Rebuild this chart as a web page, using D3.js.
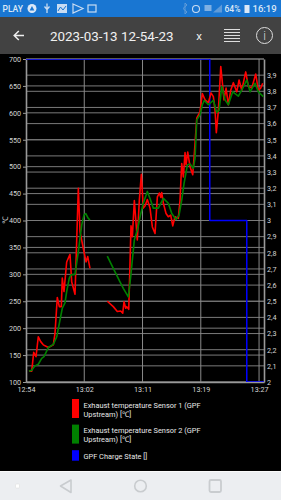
<!DOCTYPE html>
<html>
<head>
<meta charset="utf-8">
<style>
html,body{margin:0;padding:0;background:#000;width:281px;height:500px;overflow:hidden}
svg{display:block}
text{font-family:Roboto,"Noto Sans",sans-serif}
</style>
<script src="https://cdn.jsdelivr.net/npm/d3@7/dist/d3.min.js"></script>
</head>
<body>
<svg id="app" width="281" height="500"></svg>
<script>
// Recording title and time axis (minutes after 12:54)
const title = "2023-03-13 12-54-23";
const timeTicks = [0, 8.25, 16.5, 24.75, 33];
const timeLabels = ["12:54", "13:02", "13:11", "13:19", "13:27"];
const timeDomain = [0, 33.7];

const tempTicks = d3.range(100, 701, 50);
const stateTicks = d3.range(20, 41).map(d => d / 10);

// Sensor 1, two stretches with a dropout between them
const sensor1TimesA = [.42,.81,1.09,1.42,1.74,2.08,2.45,3.16,3.87,4.11,4.43,4.72,5,5.14,5.38,5.76,6.09,6.23,6.47,6.94,7.41,7.65,8.12,8.5,8.74,9.06];
const sensor1ValuesA = [120,120,155,147,184,175,169,164,169,191,257,240,240,293,268,323,333,337,286,263,460,379,348,323,333,311];
const sensor1TimesB = [11.51,12.36,12.93,13.41,13.7,13.88,14.12,14.26,14.55,14.87,15.06,15.34,15.76,16.05,16.33,16.61,16.85,17.18,17.56,17.89,18.27,18.6,18.88,19.08,19.22,19.45,19.83,20.15,20.49,20.78,21.1,21.57,21.81,22.05,22.28,22.52,22.66,22.9,23.23,23.61,23.84,24.18,24.64,24.97,25.35,25.82,26.2,26.53,26.77,26.95,27.24,27.58,27.86,28.04,28.33,28.65,28.99,29.36,29.84,30.17,30.55,31.11,31.48,31.97,32.53,32.9,33.24,33.52];
const sensor1ValuesB = [250,240,231,232,228,249,237,240,235,390,370,437,364,438,486,423,427,439,423,388,376,444,451,443,452,432,413,407,410,390,407,404,438,506,481,526,503,527,500,485,525,590,602,636,624,619,637,630,605,563,605,686,649,624,646,615,642,656,639,661,642,676,649,646,672,642,646,655];

// Sensor 2, same dropout
const sensor2TimesA = [.42,.81,1.27,1.74,2.22,2.55,3.16,3.87,4.35,4.72,5.14,5.52,5.76,6.13,6.37,6.94,7.41,7.89,8.21,8.45,8.82,9.06];
const sensor2ValuesA = [120,122,130,133,144,147,164,170,184,209,237,247,268,293,299,300,342,392,410,413,404,401];
const sensor2TimesB = [11.51,12.36,13.31,13.78,14.49,14.83,15.06,15.34,15.82,16.15,16.61,17.18,17.56,18.03,18.74,19.45,20.15,20.64,21.24,21.67,22.05,22.38,22.85,23.23,23.69,23.94,24.18,24.64,24.97,25.25,25.82,26.53,27.01,27.34,27.72,28.18,28.65,29.27,30.07,30.55,31.26,31.73,32.43,32.9,33.61];
const sensor2ValuesB = [334,311,286,274,258,296,327,364,385,407,432,454,441,423,423,441,432,413,402,410,438,469,503,505,497,516,587,596,615,623,615,623,601,605,649,624,615,639,631,642,661,639,655,639,630];

// GPF charge state steps, read on the right axis
const chargeTimes = [0, 26.02, 31.26, 33.7];
const chargeValues = [4, 3, 2, 2];

const legendLabels = [
  ["Exhaust temperature Sensor 1 (GPF", "Upstream) [℃]"],
  ["Exhaust temperature Sensor 2 (GPF", "Upstream) [℃]"],
  ["GPF Charge State []"]
];
const seriesColors = ["#ff0000", "#008000", "#0000ff"];

const svg = d3.select("#app");
const plot = {left: 26, right: 264, top: 59, bottom: 382};
const axisColor = "#999999", labelColor = "#d4d4d4";

const x = d3.scaleLinear().domain(timeDomain).range([plot.left, plot.right]);
const yTemp = d3.scaleLinear().domain([100, 700]).range([plot.bottom, plot.top]);
const yState = d3.scaleLinear().domain([2, 4]).range([plot.bottom, plot.top]);

svg.append("rect").attr("width", 281).attr("height", 500).attr("fill", "#000");

// Grid: both value axes contribute horizontal lines
const grid = svg.append("g").attr("stroke", "#7a7a7a").attr("stroke-width", 1);
tempTicks.forEach(t => grid.append("line").attr("x1", plot.left).attr("x2", plot.right)
  .attr("y1", yTemp(t)).attr("y2", yTemp(t)));
stateTicks.forEach(t => grid.append("line").attr("x1", plot.left).attr("x2", plot.right)
  .attr("y1", yState(t)).attr("y2", yState(t)));
timeTicks.slice(1).forEach(t => grid.append("line").attr("x1", x(t)).attr("x2", x(t))
  .attr("y1", plot.top).attr("y2", plot.bottom).attr("stroke", "#8a8a8a"));

function styleAxis(g) {
  g.selectAll(".domain").attr("stroke", axisColor).attr("stroke-width", 1.6);
  g.selectAll(".tick line").attr("stroke", axisColor);
  g.selectAll("text").attr("fill", labelColor).attr("font-size", 7.2)
    .style("font-family", "Roboto,sans-serif");
}

svg.append("g").attr("transform", `translate(${plot.left},0)`)
  .call(d3.axisLeft(yTemp).tickValues(tempTicks).tickSize(3).tickPadding(2).tickSizeOuter(0))
  .call(styleAxis);
svg.append("g").attr("transform", `translate(${plot.right},0)`)
  .call(d3.axisRight(yState).tickValues(stateTicks.slice(0, -1)).tickSize(0).tickPadding(3).tickSizeOuter(0)
    .tickFormat(d => String(+d.toFixed(1)).replace(".", ",")))
  .call(styleAxis);
svg.append("g").attr("transform", `translate(0,${plot.bottom})`)
  .call(d3.axisBottom(x).tickValues(timeTicks).tickSize(0).tickPadding(5).tickSizeOuter(0)
    .tickFormat((d, i) => timeLabels[i]))
  .call(styleAxis);

svg.append("text").attr("transform", `translate(8,220) rotate(-90)`)
  .attr("text-anchor", "middle").attr("fill", labelColor).attr("font-size", 7.5).text("℃");

// Series
svg.append("clipPath").attr("id", "plot-clip").append("rect")
  .attr("x", plot.left).attr("y", plot.top).attr("width", plot.right - plot.left).attr("height", plot.bottom - plot.top);
const marks = svg.append("g").attr("clip-path", "url(#plot-clip)").attr("fill", "none").attr("stroke-linejoin", "round");

const zip = (ts, vs) => ts.map((t, i) => [t, vs[i]]);
const tempLine = d3.line().x(d => x(d[0])).y(d => yTemp(d[1]));
const stateLine = d3.line().curve(d3.curveStepAfter).x(d => x(d[0])).y(d => yState(d[1]));

marks.append("path").attr("d", stateLine(zip(chargeTimes, chargeValues)))
  .attr("stroke", seriesColors[2]).attr("stroke-width", 1.5);
[[sensor1TimesA, sensor1ValuesA], [sensor1TimesB, sensor1ValuesB]].forEach(([t, v]) =>
  marks.append("path").attr("d", tempLine(zip(t, v))).attr("stroke", seriesColors[0]).attr("stroke-width", 1.6));
[[sensor2TimesA, sensor2ValuesA], [sensor2TimesB, sensor2ValuesB]].forEach(([t, v]) =>
  marks.append("path").attr("d", tempLine(zip(t, v))).attr("stroke", seriesColors[1]).attr("stroke-width", 1.6));

// Legend
let ly = 399;
legendLabels.forEach((lines, i) => {
  const h = lines.length === 2 ? 19 : 10.5;
  svg.append("rect").attr("x", 72).attr("y", ly).attr("width", 7).attr("height", h).attr("fill", seriesColors[i]);
  lines.forEach((s, j) => svg.append("text").attr("x", 83.5).attr("y", ly + 8.8 + j * 9)
    .attr("fill", "#e8e8e8").attr("font-size", 7.4).text(s));
  ly += h + 6.6;
});

// Header bar (its black margin covers the top of the first axis label)
svg.append("rect").attr("y", 17).attr("width", 281).attr("height", 40).attr("fill", "#000");
svg.append("rect").attr("y", 17).attr("width", 281).attr("height", 37).attr("fill", "#424242");
svg.append("path").attr("d", "M24 35.5H14.5M18.8 31L14.2 35.5L18.8 40").attr("fill", "none").attr("stroke", "#eee").attr("stroke-width", 1.5);
svg.append("text").attr("x", 111.7).attr("y", 40.5).attr("text-anchor", "middle").attr("fill", "#f0f0f0")
  .attr("font-size", 13.4).text(title);
svg.append("text").attr("x", 199).attr("y", 39.5).attr("text-anchor", "middle").attr("fill", "#eee")
  .attr("font-size", 11.5).text("x");
d3.range(5).forEach(i => svg.append("line").attr("x1", 224).attr("x2", 240).attr("y1", 29.5 + i * 3).attr("y2", 29.5 + i * 3)
  .attr("stroke", "#ddd").attr("stroke-width", 1));
svg.append("circle").attr("cx", 264.5).attr("cy", 35.5).attr("r", 8).attr("fill", "none").attr("stroke", "#ddd").attr("stroke-width", 1);
svg.append("text").attr("x", 264.5).attr("y", 40).attr("text-anchor", "middle").attr("fill", "#ddd")
  .attr("font-size", 12).attr("font-weight", 300).text("i");

// Status bar
const bar = "#1976d2", glyph = "#dbe8f7";
svg.append("rect").attr("width", 281).attr("height", 17).attr("fill", bar);
const sb = (x0, s, size, anchor) => svg.append("text").attr("x", x0).attr("y", 12).attr("fill", glyph)
  .attr("font-size", size).attr("font-weight", 500).attr("text-anchor", anchor || "start").text(s);
sb(2.5, "PLAY", 8.5);
svg.append("circle").attr("cx", 32).attr("cy", 8.5).attr("r", 4.5).attr("fill", glyph);
svg.append("path").attr("d", "M32 6L34.4 10.5H29.6Z").attr("fill", bar);
svg.append("path").attr("d", "M47 3.5V13M44.5 6.5L47 9.5L49.5 6.5").attr("fill", "none").attr("stroke", "#c9dcf2").attr("stroke-width", 1.3);
svg.append("rect").attr("x", 57).attr("y", 4).attr("width", 10).attr("height", 9).attr("fill", "#c9dcf2");
svg.append("path").attr("d", "M58 11L60.5 7L63 10L66 6").attr("fill", "none").attr("stroke", bar);
svg.append("path").attr("d", "M73 4L83 8.5L73 13Z").attr("fill", "none").attr("stroke", "#c9dcf2").attr("stroke-width", 1.2);
svg.append("rect").attr("x", 88).attr("y", 5).attr("width", 8).attr("height", 7).attr("fill", "none").attr("stroke", "#c9dcf2").attr("stroke-width", 1.2);
svg.append("path").attr("d", "M183 8.5L187 12L185 14V3L187 5L183 8.5").attr("fill", "none").attr("stroke", "#5f9bd9").attr("stroke-width", 1);
svg.append("circle").attr("cx", 196).attr("cy", 9).attr("r", 3.5).attr("fill", "none").attr("stroke", "#c9dcf2").attr("stroke-width", 1.1);
svg.append("rect").attr("x", 204.5).attr("y", 5).attr("width", 7).attr("height", 6).attr("fill", "#7fb0e3");
svg.append("path").attr("d", "M213 12.5L222 4.5V12.5Z").attr("fill", "#5f9bd9");
sb(224.5, "64%", 8.5);
svg.append("rect").attr("x", 244.5).attr("y", 5).attr("width", 5).attr("height", 8).attr("fill", glyph);
sb(252.5, "16:19", 9.5);

// Navigation bar
svg.append("rect").attr("y", 471).attr("width", 281).attr("height", 29).attr("fill", "#eceef1");
svg.append("rect").attr("y", 471).attr("width", 281).attr("height", 1).attr("fill", "#fafafa");
const navColor = "#c9cccf";
svg.append("rect").attr("x", 15.5).attr("y", 484).attr("width", 4).attr("height", 4).attr("rx", 1).attr("fill", "#fff").attr("stroke", "#d8d8d8").attr("stroke-width", .5);
svg.append("path").attr("d", "M71 480V492.5L60.5 486Z").attr("fill", "none").attr("stroke", navColor).attr("stroke-width", 1.6).attr("stroke-linejoin", "round");
svg.append("circle").attr("cx", 140.5).attr("cy", 486).attr("r", 5.8).attr("fill", "none").attr("stroke", navColor).attr("stroke-width", 1.6);
svg.append("rect").attr("x", 209.5).attr("y", 480).attr("width", 11.5).attr("height", 12).attr("rx", 1.5).attr("fill", "none").attr("stroke", navColor).attr("stroke-width", 1.8);
</script>
</body>
</html>
